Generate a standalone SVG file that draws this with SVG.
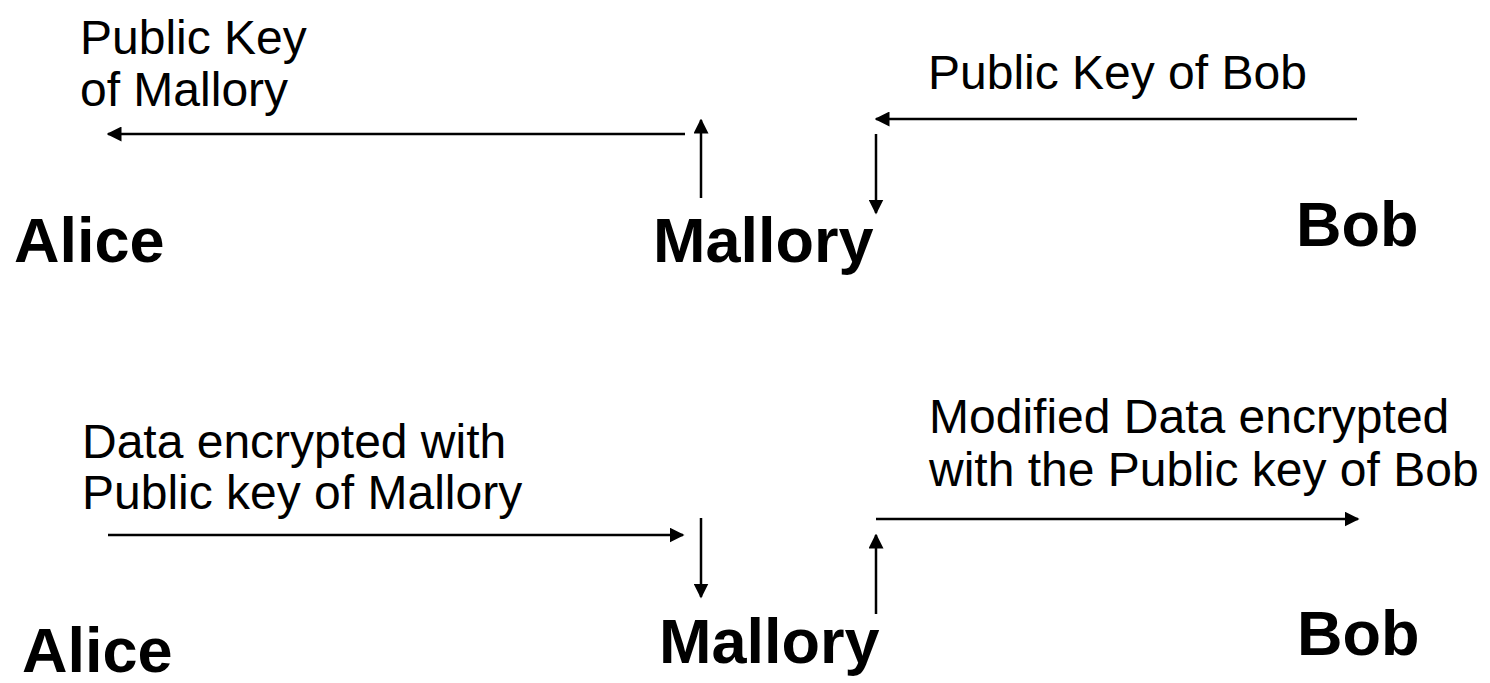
<svg xmlns="http://www.w3.org/2000/svg" width="1490" height="683" viewBox="0 0 1490 683">
  <style>
    .party { font-family: "Liberation Sans", Arial, sans-serif; font-weight: bold; font-size: 63px; fill: #000; }
    .label { font-family: "Liberation Sans", Arial, sans-serif; font-size: 48px; fill: #000; }
    .wire { stroke: #000; stroke-width: 2.5; fill: none; marker-end: url(#head); }
  </style>
  <defs>
    <marker id="head" viewBox="0 0 10 10" refX="9" refY="5" markerUnits="userSpaceOnUse" markerWidth="15" markerHeight="15" orient="auto">
      <path d="M0,0 L10,5 L0,10 Z" fill="#000"/>
    </marker>
  </defs>

  <!-- top scene: key exchange intercepted -->
  <g id="alice-top"><text class="party" x="14" y="262">Alice</text></g>
  <g id="mallory-top"><text class="party" x="653" y="262">Mallory</text></g>
  <g id="bob-top"><text class="party" x="1296" y="246">Bob</text></g>
  <g id="label-key-mallory">
    <text class="label" x="80" y="54">Public Key</text>
    <text class="label" x="80" y="106">of Mallory</text>
  </g>
  <g id="label-key-bob"><text class="label" x="928" y="89">Public Key of Bob</text></g>

  <!-- bottom scene: data relayed through Mallory -->
  <g id="alice-bottom"><text class="party" x="22" y="672">Alice</text></g>
  <g id="mallory-bottom"><text class="party" x="659" y="663">Mallory</text></g>
  <g id="bob-bottom"><text class="party" x="1297" y="655">Bob</text></g>
  <g id="label-data-alice">
    <text class="label" x="82" y="458">Data encrypted with</text>
    <text class="label" x="82" y="509">Public key of Mallory</text>
  </g>
  <g id="label-data-bob">
    <text class="label" x="929" y="433">Modified Data encrypted</text>
    <text class="label" x="929" y="486">with the Public key of Bob</text>
  </g>

  <g id="connectors">
    <line class="wire" x1="685" y1="134" x2="108" y2="134"/>
    <line class="wire" x1="701" y1="198" x2="701" y2="120"/>
    <line class="wire" x1="1357" y1="119" x2="876" y2="119"/>
    <line class="wire" x1="876" y1="134" x2="876" y2="213"/>
    <line class="wire" x1="108" y1="535" x2="683" y2="535"/>
    <line class="wire" x1="701" y1="518" x2="701" y2="597"/>
    <line class="wire" x1="876" y1="519" x2="1358" y2="519"/>
    <line class="wire" x1="876" y1="614" x2="876" y2="535"/>
  </g>
</svg>
